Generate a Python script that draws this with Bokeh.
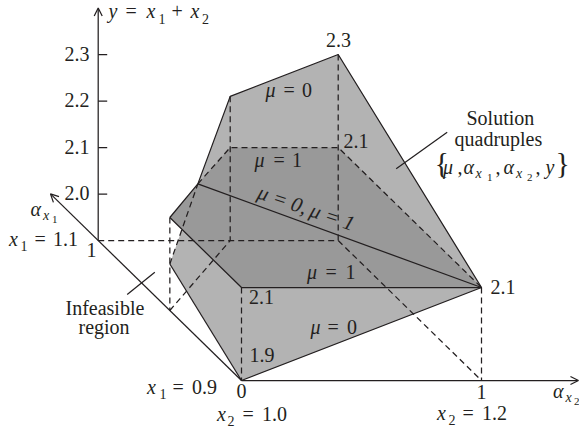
from bokeh.core.properties import value
from bokeh.embed import file_html
from bokeh.models import Arrow, OpenHead, Range1d
from bokeh.plotting import figure
from bokeh.resources import INLINE

# ---- data: vertices as (alpha_x1, alpha_x2, y) ----
origin = (0, 0, 1.9)
p_low = (0.5, 0, 2.0)
p_high = (0.5, 0, 2.1)
p_base = (0.5, 0, 1.9)
cross = (0.74, 0.26, 2.1)
q_top = (1, 0.55, 2.21)
q_mid = (1, 0.55, 2.1)
q_base = (1, 0.55, 1.9)
r_top = (1, 1, 2.3)
r_mid = (1, 1, 2.1)
r_base = (1, 1, 1.9)
s_base = (0, 1, 1.9)
s_mid = (0, 1, 2.1)
t_mid = (0, 0, 2.1)
a_base = (1, 0, 1.9)

mu0_surface = [origin, p_low, cross, q_top, r_top, s_mid]
mu1_surface = [p_high, cross, q_mid, r_mid, s_mid, t_mid]

solid_paths = [
    [origin, p_low], [p_high, cross, q_top, r_top, s_mid, origin],
    [p_high, t_mid, s_mid], [cross, s_mid],
]
dashed_paths = [
    [p_low, cross], [cross, q_mid, r_mid, s_mid],
    [q_top, q_base], [r_top, r_base], [t_mid, origin], [s_mid, s_base],
    [p_high, p_base], [a_base, r_base, s_base], [p_base, q_base],
]
y_ticks = [2.0, 2.1, 2.2, 2.3]
y_tick_labels = ["2.0", "2.1", "2.2", "2.3"]
axis_tips = {"a1": (1.333, 0, 1.9), "a2": (0, 1.404, 1.9), "y": (1, 0, 2.4)}

# ---- oblique projection used by the figure ----
OX, OY = 241.0, 380.0


def px(v):
    return OX - 143.3 * v[0] + 240.0 * v[1]


def py(v):
    return OY - 140.0 * v[0] - 465.0 * (v[2] - 1.9)


def xs(path):
    return [px(v) for v in path]


def ys(path):
    return [py(v) for v in path]


INK = "#231f20"
FONT = value("Liberation Serif")
LIGHT, DARK = "#b3b3b3", "#999999"
LW = 1.25
BASE = 0.33  # the svg text baseline sits this many em below the requested one

p = figure(width=579, height=430, x_range=Range1d(0, 579), y_range=Range1d(430, 0),
           output_backend="svg", toolbar_location=None, min_border=0,
           background_fill_color="white", outline_line_color=None)
p.axis.visible = False
p.grid.visible = False

p.patch(xs(mu0_surface), ys(mu0_surface), fill_color=LIGHT, line_color=None)
p.patch(xs(mu1_surface), ys(mu1_surface), fill_color=DARK, line_color=None)

for path in dashed_paths:
    p.line(xs(path), ys(path), line_color=INK, line_width=LW, line_dash="6 4")
for path in solid_paths:
    p.line(xs(path), ys(path), line_color=INK, line_width=LW)

# axes
for start, key in ((origin, "a1"), (origin, "a2"), (a_base, "y")):
    tip = axis_tips[key]
    p.add_layout(Arrow(end=OpenHead(size=8, line_width=LW, line_color=INK),
                       x_start=px(start), y_start=py(start),
                       x_end=px(tip), y_end=py(tip),
                       line_color=INK, line_width=LW))
for t in y_ticks:
    p.line([px((1, 0, t)), px((1, 0, t)) + 9], [py((1, 0, t))] * 2,
           line_color=INK, line_width=LW)

# leader lines
p.line([154.3, 126.7], [271.7, 294.0], line_color=INK, line_width=LW)
p.line([446.7, 395.7], [131.7, 168.3], line_color=INK, line_width=LW)

BIG, SUB, SUBSUB = 20, 14, 11
R, I = "normal", "italic"
runs = [
    # y = x1 + x2
    ("y", 108, 17.5, I, BIG), ("=", 125, 17.5, R, BIG), ("x", 146, 17.5, I, BIG),
    ("1", 158, 23, R, SUB), ("+", 171, 17.5, R, BIG), ("x", 190, 17.5, I, BIG),
    ("2", 201.5, 23, R, SUB),
    # surface labels
    ("μ", 265, 96, I, BIG), ("=", 283, 96, R, BIG), ("0", 301.5, 96, R, BIG),
    ("μ", 254, 166, I, BIG), ("=", 273, 166, R, BIG), ("1", 291.5, 166, R, BIG),
    ("μ", 306.5, 278, I, BIG), ("=", 325, 278, R, BIG), ("1", 345, 278, R, BIG),
    ("μ", 310, 333, I, BIG), ("=", 327, 333, R, BIG), ("0", 346.5, 333, R, BIG),
    # vertex labels
    ("2.3", 325.5, 46, R, BIG), ("2.1", 343, 147.5, R, BIG), ("2.1", 248.5, 303.5, R, BIG),
    ("1.9", 249, 361.5, R, BIG), ("2.1", 490, 293.5, R, BIG),
    ("0", 236, 397.5, R, BIG), ("1", 476, 398, R, BIG), ("1", 86, 256, R, BIG),
    # x1 = 1.1
    ("x", 8.5, 245, I, BIG), ("1", 20, 250, R, SUB), ("=", 34, 245, R, BIG), ("1.1", 52.5, 245, R, BIG),
    # x1 = 0.9
    ("x", 146.5, 393.5, I, BIG), ("1", 159, 398.5, R, SUB), ("=", 172, 393.5, R, BIG), ("0.9", 191.5, 393.5, R, BIG),
    # x2 = 1.0
    ("x", 216.5, 420, I, BIG), ("2", 227, 425.5, R, SUB), ("=", 242, 420, R, BIG), ("1.0", 261.5, 420, R, BIG),
    # x2 = 1.2
    ("x", 436.5, 419, I, BIG), ("2", 448, 424.5, R, SUB), ("=", 462, 419, R, BIG), ("1.2", 481.5, 419, R, BIG),
    # alpha axes
    ("α", 30, 215, I, BIG), ("x", 42.5, 220, I, SUB), ("1", 51.5, 223, R, SUBSUB),
    ("α", 552.5, 397, I, BIG), ("x", 565, 402, I, SUB), ("2", 573.5, 405, R, SUBSUB),
    # annotations
    ("Infeasible", 65, 314, R, BIG), ("region", 78, 333.5, R, BIG),
    ("Solution", 466, 124, R, BIG), ("quadruples", 454, 145, R, BIG),
    ("{", 434, 172, R, 30), ("μ", 442.5, 173, I, BIG), (",", 457, 173, R, BIG),
    ("α", 463, 173, I, BIG), ("x", 475, 178, I, SUB), ("1", 486.5, 181, R, SUBSUB),
    (",", 495, 173, R, BIG), ("α", 503, 173, I, BIG), ("x", 515.5, 178, I, SUB),
    ("2", 526.5, 181, R, SUBSUB), (",", 535, 173, R, BIG), ("y", 545, 173, I, BIG),
    ("}", 555, 172, R, 30),
]
for text, x, y, style, size in runs:
    p.text([x], [y - BASE * size], text=[text], text_font=FONT, text_font_style=style,
           text_font_size=f"{size}px", text_color=INK,
           text_align="left", text_baseline="alphabetic")

for t, lab in zip(y_ticks, y_tick_labels):
    p.text([89], [py((1, 0, t)) + 6 - BASE * BIG], text=[lab], text_font=FONT, text_font_size=f"{BIG}px",
           text_color=INK, text_align="right", text_baseline="alphabetic")

p.text([258], [191], text=["μ = 0,\u2009μ = 1"], text_font=FONT, text_font_style="italic",
       text_font_size="21px", text_color=INK, angle=-0.33,
       text_align="left", text_baseline="alphabetic")

open("out.html", "w").write(file_html(p, INLINE))
